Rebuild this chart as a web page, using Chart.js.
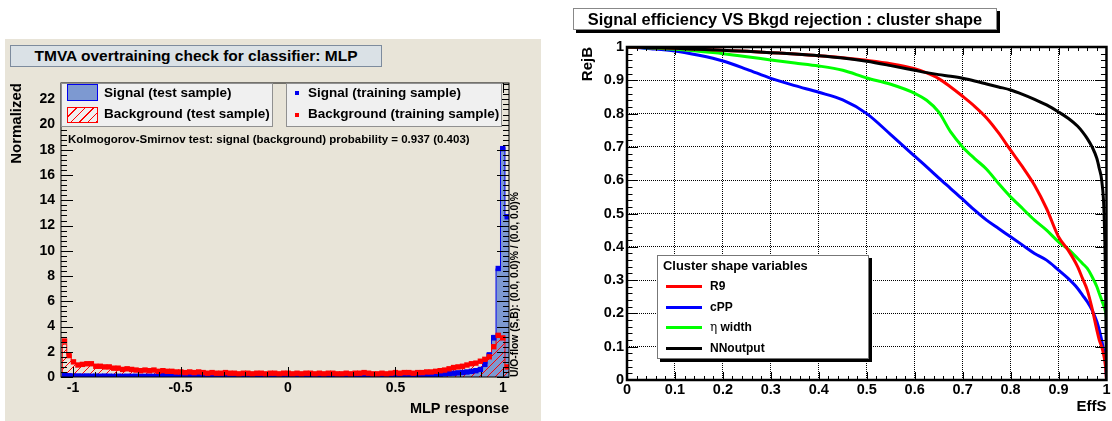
<!DOCTYPE html>
<html>
<head>
<meta charset="utf-8">
<title>TMVA MLP overtraining and ROC</title>
<script src="https://cdn.jsdelivr.net/npm/chart.js@4.4.1/dist/chart.umd.min.js"></script>
<style>
  body { margin: 0; background: #fff; font-family: 'Liberation Sans', Arial, Helvetica, sans-serif; color: #000; }
  #page { position: relative; width: 1112px; height: 421px; overflow: hidden; }
  .abs { position: absolute; white-space: nowrap; }
  #left-pad { left: 5px; top: 39px; width: 536px; height: 382px; background: #e8e4d8; }
  #mva-chart { position: absolute; left: 0; top: 0; }
  #roc-chart { position: absolute; left: 545px; top: 0; }
  .box { box-sizing: border-box; text-align: center; font-weight: bold; }
  .leg-text { font-weight: bold; font-size: 13.5px; line-height: 16px; }
  .roc-text { font-weight: bold; font-size: 12px; line-height: 14px; }
  .roc-line { width: 36px; height: 3px; left: 666px; }
</style>
</head>
<body>
<div id="page">
  <div id="left-pad" class="abs"></div>
  <canvas id="mva-chart" width="545" height="421"></canvas>
  <canvas id="roc-chart" width="567" height="421"></canvas>

  <!-- overtraining plot decorations -->
  <div class="abs box" style="left:10px;top:45px;width:372px;height:22px;background:#dae1e6;border:1px solid #7d8b9d;font-size:15.5px;line-height:20px;">TMVA overtraining check for classifier: MLP</div>
  <div class="abs" style="left:61px;top:83px;width:212px;height:44px;box-sizing:border-box;background:#f0f0f0;border:1px solid #909090;"></div>
  <div class="abs" style="left:67px;top:84px;width:31px;height:17px;box-sizing:border-box;background:#7d99d1;border:1.5px solid #0000ee;"></div>
  <div class="abs" style="left:67px;top:107px;width:31px;height:16px;box-sizing:border-box;border:1px solid #ff0000;background:repeating-linear-gradient(-45deg, #ff0000 0 1px, transparent 1px 6px);"></div>
  <div class="abs leg-text" style="left:104px;top:85px;">Signal (test sample)</div>
  <div class="abs leg-text" style="left:104px;top:106px;">Background (test sample)</div>
  <div class="abs" style="left:286px;top:83px;width:216px;height:44px;box-sizing:border-box;background:#f0f0f0;border:1px solid #909090;"></div>
  <div class="abs" style="left:295px;top:90.5px;width:4px;height:4px;background:#0000ee;"></div>
  <div class="abs" style="left:295px;top:113px;width:4px;height:4px;background:#ff0000;"></div>
  <div class="abs leg-text" style="left:308px;top:85px;">Signal (training sample)</div>
  <div class="abs leg-text" style="left:308px;top:106px;">Background (training sample)</div>
  <div class="abs" style="left:68px;top:132.6px;font-weight:bold;font-size:11.5px;line-height:13px;">Kolmogorov-Smirnov test: signal (background) probability = 0.937 (0.403)</div>
  <div class="abs" style="left:508.6px;top:377px;transform-origin:0 0;transform:rotate(-90deg);font-weight:bold;font-size:10.3px;line-height:12px;">U/O-flow (S,B): (0.0, 0.0)% / (0.0, 0.0)%</div>

  <!-- ROC plot decorations -->
  <div class="abs box" style="left:573px;top:8px;width:424px;height:22px;background:#fff;border:1px solid #888;box-shadow:3px 3px 0 #000;font-size:16.4px;line-height:20px;">Signal efficiency VS Bkgd rejection : cluster shape</div>
  <div class="abs" style="left:657px;top:255px;width:212px;height:104px;box-sizing:border-box;background:#fff;border:1px solid #777;box-shadow:3px 3px 0 #000;"></div>
  <div class="abs" style="left:663px;top:258px;font-weight:bold;font-size:12.9px;line-height:15px;">Cluster shape variables</div>
  <div class="abs roc-line" style="top:285px;background:#ff0000;"></div>
  <div class="abs roc-line" style="top:305.5px;background:#0000ff;"></div>
  <div class="abs roc-line" style="top:325.5px;background:#00ff00;"></div>
  <div class="abs roc-line" style="top:347px;background:#000;"></div>
  <div class="abs roc-text" style="left:710px;top:279.4px;">R9</div>
  <div class="abs roc-text" style="left:710px;top:300.1px;">cPP</div>
  <div class="abs roc-text" style="left:710px;top:320.1px;"><span style="font-family:'DejaVu Serif','Liberation Serif',serif;font-weight:normal;">&#951;</span> width</div>
  <div class="abs roc-text" style="left:710px;top:341.4px;">NNoutput</div>
</div>

<script>
'use strict';

// ********** GLOBAL VARIABLES **********

// MLP response histograms, 100 bins starting at -1.05
let binLow = -1.05;
let binWidth = 0.0208;

let sigTest = [
  0.12, 0.10, 0.09, 0.07, 0.08, 0.07, 0.07, 0.06, 0.07, 0.06,
  0.06, 0.06, 0.05, 0.06, 0.05, 0.06, 0.05, 0.05, 0.06, 0.05,
  0.06, 0.10, 0.12, 0.06, 0.05, 0.06, 0.08, 0.06, 0.05, 0.05,
  0.06, 0.05, 0.05, 0.06, 0.05, 0.05, 0.06, 0.05, 0.05, 0.05,
  0.06, 0.05, 0.05, 0.05, 0.06, 0.05, 0.05, 0.05, 0.06, 0.05,
  0.05, 0.05, 0.05, 0.06, 0.05, 0.05, 0.05, 0.06, 0.05, 0.05,
  0.06, 0.05, 0.05, 0.06, 0.05, 0.06, 0.06, 0.07, 0.06, 0.07,
  0.07, 0.08, 0.08, 0.09, 0.09, 0.11, 0.11, 0.13, 0.14, 0.14,
  0.16, 0.17, 0.19, 0.21, 0.23, 0.26, 0.29, 0.31, 0.35, 0.38,
  0.42, 0.47, 0.55, 0.65, 1.05, 1.90, 3.30, 8.60, 18.20, 12.70
];
let bkgTest = [
  2.60, 1.80, 1.15, 1.00, 0.95, 1.00, 1.10, 0.90, 0.80, 0.85,
  0.75, 0.75, 0.65, 0.65, 0.60, 0.55, 0.55, 0.55, 0.50, 0.50,
  0.50, 0.50, 0.45, 0.45, 0.40, 0.45, 0.40, 0.40, 0.35, 0.35,
  0.35, 0.35, 0.35, 0.30, 0.30, 0.35, 0.30, 0.30, 0.30, 0.30,
  0.25, 0.30, 0.30, 0.25, 0.30, 0.30, 0.30, 0.25, 0.30, 0.25,
  0.30, 0.30, 0.25, 0.30, 0.30, 0.25, 0.30, 0.30, 0.30, 0.25,
  0.30, 0.30, 0.30, 0.25, 0.30, 0.30, 0.25, 0.30, 0.30, 0.30,
  0.30, 0.25, 0.30, 0.30, 0.30, 0.35, 0.30, 0.35, 0.35, 0.35,
  0.40, 0.40, 0.45, 0.45, 0.50, 0.60, 0.65, 0.70, 0.80, 0.90,
  0.95, 1.00, 1.15, 1.20, 1.35, 1.65, 2.50, 3.45, 3.20, 0.75
];
let sigTrain = [
  0.15, 0.10, 0.08, 0.08, 0.07, 0.08, 0.06, 0.07, 0.06, 0.07,
  0.06, 0.05, 0.06, 0.05, 0.06, 0.05, 0.06, 0.05, 0.05, 0.06,
  0.05, 0.20, 0.15, 0.05, 0.06, 0.05, 0.10, 0.05, 0.06, 0.05,
  0.05, 0.06, 0.05, 0.05, 0.06, 0.05, 0.05, 0.05, 0.06, 0.05,
  0.05, 0.05, 0.06, 0.05, 0.05, 0.05, 0.06, 0.05, 0.05, 0.05,
  0.05, 0.06, 0.05, 0.05, 0.05, 0.06, 0.05, 0.05, 0.05, 0.06,
  0.05, 0.05, 0.06, 0.05, 0.06, 0.05, 0.06, 0.06, 0.07, 0.06,
  0.07, 0.07, 0.08, 0.08, 0.10, 0.10, 0.12, 0.12, 0.13, 0.15,
  0.15, 0.17, 0.18, 0.20, 0.22, 0.25, 0.28, 0.30, 0.33, 0.36,
  0.40, 0.45, 0.50, 0.60, 1.00, 1.75, 3.10, 8.60, 18.10, 12.70
];
let bkgTrain = [
  2.85, 1.70, 1.20, 0.95, 1.00, 1.05, 1.05, 0.85, 0.85, 0.80,
  0.80, 0.70, 0.70, 0.60, 0.65, 0.60, 0.55, 0.50, 0.55, 0.50,
  0.55, 0.45, 0.50, 0.45, 0.45, 0.40, 0.40, 0.35, 0.40, 0.35,
  0.40, 0.35, 0.30, 0.35, 0.30, 0.30, 0.35, 0.30, 0.30, 0.25,
  0.30, 0.30, 0.25, 0.30, 0.30, 0.25, 0.30, 0.30, 0.25, 0.30,
  0.30, 0.25, 0.30, 0.25, 0.30, 0.30, 0.25, 0.30, 0.25, 0.30,
  0.30, 0.25, 0.25, 0.30, 0.25, 0.30, 0.30, 0.35, 0.30, 0.25,
  0.25, 0.30, 0.25, 0.30, 0.35, 0.30, 0.35, 0.35, 0.30, 0.35,
  0.35, 0.40, 0.40, 0.45, 0.50, 0.55, 0.65, 0.75, 0.80, 0.85,
  0.95, 1.05, 1.10, 1.25, 1.40, 1.60, 2.40, 3.30, 3.10, 0.80
];

let mvaXTicks = [-1, -0.5, 0, 0.5, 1];
let mvaYTicks = [0, 2, 4, 6, 8, 10, 12, 14, 16, 18, 20, 22];

// ROC curves: background rejection vs signal efficiency
let effS = [0, 0.05, 0.1, 0.15, 0.2, 0.25, 0.3, 0.35, 0.4, 0.45,
  0.5, 0.55, 0.6, 0.625, 0.65, 0.675, 0.7, 0.725, 0.75, 0.775,
  0.8, 0.825, 0.85, 0.875, 0.9, 0.92, 0.94, 0.95, 0.96, 0.97,
  0.98, 0.985, 0.99, 0.995, 0.998, 1];
let rejR9 = [1, 0.998, 0.996, 0.993, 0.99, 0.987, 0.983, 0.979, 0.974, 0.968,
  0.96, 0.95, 0.935, 0.922, 0.905, 0.88, 0.852, 0.822, 0.787, 0.742,
  0.69, 0.64, 0.585, 0.515, 0.43, 0.39, 0.34, 0.305, 0.27, 0.215,
  0.15, 0.12, 0.10, 0.07, 0.04, 0];
let rejCPP = [1, 0.995, 0.988, 0.975, 0.958, 0.933, 0.906, 0.884, 0.864, 0.841,
  0.80, 0.737, 0.672, 0.64, 0.607, 0.575, 0.543, 0.51, 0.48, 0.455,
  0.43, 0.405, 0.38, 0.36, 0.33, 0.305, 0.275, 0.255, 0.235, 0.21,
  0.175, 0.15, 0.12, 0.08, 0.05, 0.01];
let rejEta = [1, 0.997, 0.993, 0.987, 0.98, 0.971, 0.961, 0.952, 0.943, 0.93,
  0.907, 0.888, 0.861, 0.84, 0.805, 0.745, 0.70, 0.665, 0.633, 0.59,
  0.55, 0.515, 0.48, 0.45, 0.415, 0.393, 0.365, 0.35, 0.335, 0.31,
  0.28, 0.26, 0.24, 0.22, 0.205, 0.19];
let rejNN = [1, 0.998, 0.996, 0.993, 0.99, 0.987, 0.983, 0.979, 0.974, 0.967,
  0.957, 0.944, 0.93, 0.923, 0.917, 0.912, 0.906, 0.898, 0.889, 0.88,
  0.871, 0.858, 0.843, 0.826, 0.805, 0.786, 0.762, 0.745, 0.725, 0.70,
  0.665, 0.635, 0.60, 0.50, 0.30, 0];

let rocTicks = [0, 0.1, 0.2, 0.3, 0.4, 0.5, 0.6, 0.7, 0.8, 0.9, 1];

// ********** WINDOWS INTO THAT DOM **********

let mvaCanvas = document.getElementById('mva-chart');
let rocCanvas = document.getElementById('roc-chart');

Chart.defaults.font.family = "'Liberation Sans', Arial, Helvetica, sans-serif";
Chart.defaults.color = '#000';

// ********** HELPER FUNCTIONS/UTILITIES **********

// histogram outline: one point per bin edge, stepped line closes to zero at both ends
function stepPoints(values) {
  let pts = [{ x: binLow, y: 0 }];
  for (let i = 0; i < values.length; i++) {
    pts.push({ x: binLow + i * binWidth, y: values[i] });
  }
  let high = binLow + values.length * binWidth;
  pts.push({ x: high, y: values[values.length - 1] });
  pts.push({ x: high, y: 0 });
  return pts;
}

// markers at bin centres
function markerPoints(values) {
  return values.map((v, i) => ({ x: binLow + (i + 0.5) * binWidth, y: v }));
}

function rocPoints(rej) {
  return effS.map((e, i) => ({ x: e, y: rej[i] }));
}

function makeHatch(ctx, color) {
  let tile = document.createElement('canvas');
  tile.width = 8;
  tile.height = 8;
  let t = tile.getContext('2d');
  t.strokeStyle = color;
  t.lineWidth = 1;
  t.beginPath();
  t.moveTo(0, 8); t.lineTo(8, 0);
  t.moveTo(-2, 2); t.lineTo(2, -2);
  t.moveTo(6, 10); t.lineTo(10, 6);
  t.stroke();
  return ctx.createPattern(tile, 'repeat');
}

function eachTick(min, max, step, major, fn) {
  let first = Math.ceil(min / step - 1e-9);
  let last = Math.floor(max / step + 1e-9);
  for (let k = first; k <= last; k++) {
    let v = k * step;
    let r = v / major;
    fn(v, Math.abs(r - Math.round(r)) < 1e-6);
  }
}

// ROOT style frame with ticks on all four sides, pointing inwards
let rootFrame = {
  id: 'rootFrame',
  afterDatasetsDraw(chart, args, opts) {
    let ctx = chart.ctx;
    let a = chart.chartArea;
    let xs = chart.scales.x;
    let ys = chart.scales.y;
    ctx.save();
    ctx.strokeStyle = '#000';
    ctx.lineWidth = 1;
    ctx.beginPath();
    eachTick(xs.min, xs.max, opts.xMinor, opts.xMajor, (v, isMajor) => {
      let px = Math.round(xs.getPixelForValue(v)) + 0.5;
      let len = isMajor ? opts.xLen : opts.xLen / 2;
      ctx.moveTo(px, a.bottom); ctx.lineTo(px, a.bottom - len);
      ctx.moveTo(px, a.top); ctx.lineTo(px, a.top + len);
    });
    eachTick(ys.min, ys.max, opts.yMinor, opts.yMajor, (v, isMajor) => {
      let py = Math.round(ys.getPixelForValue(v)) + 0.5;
      let len = isMajor ? opts.yLen : opts.yLen / 2;
      ctx.moveTo(a.left, py); ctx.lineTo(a.left + len, py);
      ctx.moveTo(a.right, py); ctx.lineTo(a.right - len, py);
    });
    ctx.stroke();
    ctx.lineWidth = opts.frameWidth;
    ctx.strokeRect(a.left, a.top, a.right - a.left, a.bottom - a.top);
    ctx.restore();
  }
};

function fixedTicks(list) {
  return (scale) => { scale.ticks = list.map(v => ({ value: v })); };
}

// ********** CHART RENDERING **********

function renderMvaChart() {
  let ctx = mvaCanvas.getContext('2d');
  let chartObj = {
    type: 'line',
    data: {
      datasets: [{
        label: 'Background (training sample)',
        data: markerPoints(bkgTrain),
        showLine: false,
        pointStyle: 'rect',
        pointRadius: 3.8,
        pointBorderWidth: 0,
        pointBackgroundColor: '#ff0000',
        order: 0
      },
      {
        label: 'Signal (training sample)',
        data: markerPoints(sigTrain),
        showLine: false,
        pointStyle: 'rect',
        pointRadius: 3.8,
        pointBorderWidth: 0,
        pointBackgroundColor: '#0000ee',
        order: 1
      },
      {
        label: 'Background (test sample)',
        data: stepPoints(bkgTest),
        stepped: true,
        fill: 'origin',
        backgroundColor: makeHatch(ctx, '#ff0000'),
        borderColor: '#ff0000',
        borderWidth: 1,
        pointRadius: 0,
        order: 2
      },
      {
        label: 'Signal (test sample)',
        data: stepPoints(sigTest),
        stepped: true,
        fill: 'origin',
        backgroundColor: '#7d99d1',
        borderColor: '#0000ee',
        borderWidth: 1,
        pointRadius: 0,
        order: 3
      }]
    },
    options: {
      responsive: false,
      animation: false,
      events: [],
      layout: { autoPadding: false, padding: { left: 0, top: 83, right: 36, bottom: 0 } },
      plugins: {
        legend: { display: false },
        tooltip: { enabled: false },
        rootFrame: { xMinor: 0.1, xMajor: 0.5, yMinor: 0.4, yMajor: 2, xLen: 10, yLen: 12, frameWidth: 1 }
      },
      scales: {
        x: {
          type: 'linear',
          min: -1.056,
          max: 1.028,
          afterBuildTicks: fixedTicks(mvaXTicks),
          afterFit: (scale) => { scale.height = 44; },
          grid: { display: false, drawTicks: false },
          border: { display: false },
          ticks: { padding: 3, font: { size: 14, weight: 'bold' }, callback: (v) => String(v) },
          title: { display: true, text: 'MLP response', align: 'end', font: { size: 14.5, weight: 'bold' }, padding: { top: 0, bottom: 3.3 } }
        },
        y: {
          type: 'linear',
          min: 0,
          max: 23.3,
          afterBuildTicks: fixedTicks(mvaYTicks),
          afterFit: (scale) => { scale.width = 61; },
          grid: { display: false, drawTicks: false },
          border: { display: false },
          ticks: { padding: 6, font: { size: 14, weight: 'bold' }, callback: (v) => String(v) },
          title: { display: true, text: 'Normalized', align: 'end', font: { size: 15, weight: 'bold' }, padding: { top: 7.5, bottom: 0 } }
        }
      }
    },
    plugins: [rootFrame]
  };
  new Chart(mvaCanvas, chartObj); //eslint-disable-line
}

function renderRocChart() {
  let chartObj = {
    type: 'line',
    data: {
      datasets: [{
        label: 'NNoutput',
        data: rocPoints(rejNN),
        borderColor: '#000000',
        order: 0
      },
      {
        label: 'R9',
        data: rocPoints(rejR9),
        borderColor: '#ff0000',
        order: 1
      },
      {
        label: '\u03b7 width',
        data: rocPoints(rejEta),
        borderColor: '#00ff00',
        order: 2
      },
      {
        label: 'cPP',
        data: rocPoints(rejCPP),
        borderColor: '#0000ff',
        order: 3
      }]
    },
    options: {
      responsive: false,
      animation: false,
      events: [],
      elements: {
        line: { borderWidth: 3, cubicInterpolationMode: 'monotone', fill: false },
        point: { radius: 0 }
      },
      layout: { autoPadding: false, padding: { left: 0, top: 47, right: 2, bottom: 0 } },
      plugins: {
        legend: { display: false },
        tooltip: { enabled: false },
        rootFrame: { xMinor: 0.02, xMajor: 0.1, yMinor: 0.02, yMajor: 0.1, xLen: 8, yLen: 11, frameWidth: 2.5 }
      },
      scales: {
        x: {
          type: 'linear',
          min: 0,
          max: 1,
          afterBuildTicks: fixedTicks(rocTicks),
          afterFit: (scale) => { scale.height = 41; },
          grid: { color: '#000', lineWidth: 1, drawTicks: false },
          border: { display: false, dash: [1, 1] },
          ticks: { padding: 1.5, font: { size: 14.5, weight: 'bold' }, callback: (v) => String(v) },
          title: { display: true, text: 'EffS', align: 'end', font: { size: 15, weight: 'bold' }, padding: { top: 0, bottom: 5.5 } }
        },
        y: {
          type: 'linear',
          min: 0,
          max: 1,
          afterBuildTicks: fixedTicks(rocTicks),
          afterFit: (scale) => { scale.width = 82; },
          grid: { color: '#000', lineWidth: 1, drawTicks: false },
          border: { display: false, dash: [1, 1] },
          ticks: { padding: 3, font: { size: 14.5, weight: 'bold' }, callback: (v) => String(v) },
          title: { display: true, text: 'RejB', align: 'end', font: { size: 15, weight: 'bold' }, padding: { top: 34, bottom: 0 } }
        }
      }
    },
    plugins: [rootFrame]
  };
  new Chart(rocCanvas, chartObj); //eslint-disable-line
}

// ********** EXECUTABLE CODE **********

renderMvaChart();
renderRocChart();
</script>
</body>
</html>
